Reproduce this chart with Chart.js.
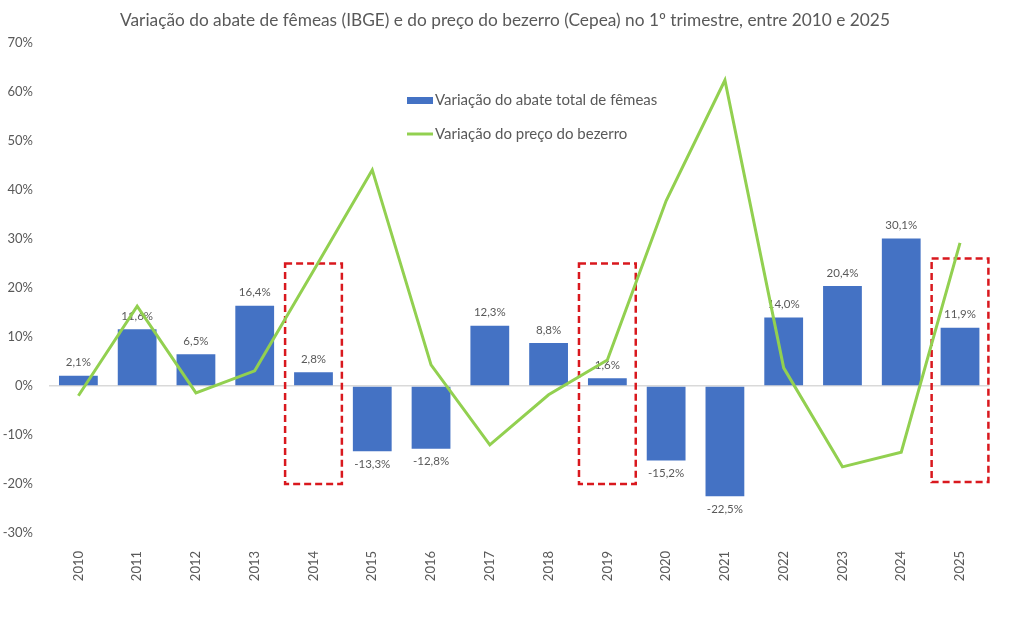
<!DOCTYPE html>
<html>
<head>
<meta charset="utf-8">
<script src="https://cdn.jsdelivr.net/npm/chart.js@4"></script>
<style>
  html, body { margin: 0; padding: 0; background: #ffffff; }
  #wrap { width: 1012px; height: 629px; position: relative; }
</style>
</head>
<body>
<div id="wrap"><canvas id="c" width="1012" height="629"></canvas></div>
<script>
const chartTitle = 'Variação do abate de fêmeas (IBGE) e do preço do bezerro (Cepea) no 1º trimestre, entre 2010 e 2025';
const categories = ['2010','2011','2012','2013','2014','2015','2016','2017','2018','2019','2020','2021','2022','2023','2024','2025'];
const abateLabel = 'Variação do abate total de fêmeas';
const abateFemeas = [2.1, 11.6, 6.5, 16.4, 2.8, -13.3, -12.8, 12.3, 8.8, 1.6, -15.2, -22.5, 14.0, 20.4, 30.1, 11.9];
const bezerroLabel = 'Variação do preço do bezerro';
const precoBezerro = [-2.0, 16.3, -1.4, 3.1, 23.5, 44.1, 4.3, -12.0, -1.8, 5.3, 37.8, 62.4, 3.7, -16.5, -13.5, 29.2];
const yMin = -30, yMax = 70, yStep = 10;
const highlightYears = ['2014', '2019', '2025'];
const highlightTop = [25, 25, 26];
const highlightBottom = [-20, -20, -19.6];

const FONT = 'Lato, "Open Sans", sans-serif';
const TEXT = '#595959';
const BLUE = '#4472C4';
const GREEN = '#92D050';
const RED = '#D9181E';

const fmt = v => v.toFixed(1).replace('.', ',') + '%';

const overlayPlugin = {
  id: 'overlay',
  beforeDatasetsDraw(chart) {
    const ctx = chart.ctx;
    const x = chart.scales.x, y = chart.scales.y;
    const band = x.width / categories.length;
    // red dashed highlight boxes
    ctx.save();
    ctx.strokeStyle = RED;
    ctx.lineWidth = 2.5;
    ctx.setLineDash([7, 4]);
    highlightYears.forEach((yr, i) => {
      const idx = categories.indexOf(yr);
      const cx = x.getPixelForValue(idx);
      const top = y.getPixelForValue(highlightTop[i]);
      const bot = y.getPixelForValue(highlightBottom[i]);
      ctx.strokeRect(cx - band / 2 + 1, top, band - 2, bot - top);
    });
    ctx.restore();
    // bar value labels
    const meta = chart.getDatasetMeta(1);
    ctx.save();
    ctx.font = '11.5px ' + FONT;
    ctx.fillStyle = TEXT;
    ctx.textAlign = 'center';
    ctx.textBaseline = 'middle';
    meta.data.forEach((el, i) => {
      const v = abateFemeas[i];
      const ty = v >= 0 ? el.y - 13 : el.y + 13;
      ctx.fillText(fmt(v), el.x, ty);
    });
    ctx.restore();
  },
  afterDraw(chart) {
    const ctx = chart.ctx;
    ctx.save();
    // title
    ctx.font = '17.3px ' + FONT;
    ctx.fillStyle = TEXT;
    ctx.textAlign = 'center';
    ctx.textBaseline = 'middle';
    ctx.fillText(chartTitle, 505, 20);
    // legend
    ctx.font = '15px ' + FONT;
    ctx.textAlign = 'left';
    ctx.fillStyle = BLUE;
    ctx.fillRect(407, 97, 26, 7);
    ctx.fillStyle = TEXT;
    ctx.fillText(chart.data.datasets[1].label, 435, 100);
    ctx.strokeStyle = GREEN;
    ctx.lineWidth = 3;
    ctx.beginPath();
    ctx.moveTo(407, 134);
    ctx.lineTo(433, 134);
    ctx.stroke();
    ctx.fillText(chart.data.datasets[0].label, 435, 134);
    ctx.restore();
  }
};

new Chart(document.getElementById('c'), {
  data: {
    labels: categories,
    datasets: [
      {
        type: 'line',
        label: bezerroLabel,
        data: precoBezerro,
        borderColor: GREEN,
        backgroundColor: GREEN,
        borderWidth: 3,
        pointRadius: 0,
        tension: 0,
        order: 1
      },
      {
        type: 'bar',
        label: abateLabel,
        data: abateFemeas,
        backgroundColor: BLUE,
        borderWidth: 0,
        barPercentage: 0.66,
        categoryPercentage: 1.0,
        order: 2
      }
    ]
  },
  options: {
    responsive: false,
    animation: false,
    devicePixelRatio: 1,
    layout: { padding: { top: 43, left: 0, right: 22.6, bottom: 0 } },
    plugins: {
      legend: { display: false },
      title: { display: false },
      tooltip: { enabled: false }
    },
    scales: {
      x: {
        grid: { display: false },
        border: { display: false },
        ticks: {
          minRotation: 90,
          maxRotation: 90,
          padding: 10,
          color: TEXT,
          font: { family: FONT, size: 13 }
        },
        afterFit(scale) { scale.height = 96; }
      },
      y: {
        min: yMin,
        max: yMax,
        border: { display: false },
        grid: {
          drawTicks: false,
          color: ctx => (ctx.tick && ctx.tick.value === 0) ? '#d9d9d9' : 'rgba(0,0,0,0)',
          lineWidth: 1.5
        },
        ticks: {
          stepSize: yStep,
          padding: 16,
          color: TEXT,
          font: { family: FONT, size: 13 },
          callback: v => v + '%'
        },
        afterFit(scale) { scale.width = 49; }
      }
    }
  },
  plugins: [overlayPlugin]
});
</script>
</body>
</html>
